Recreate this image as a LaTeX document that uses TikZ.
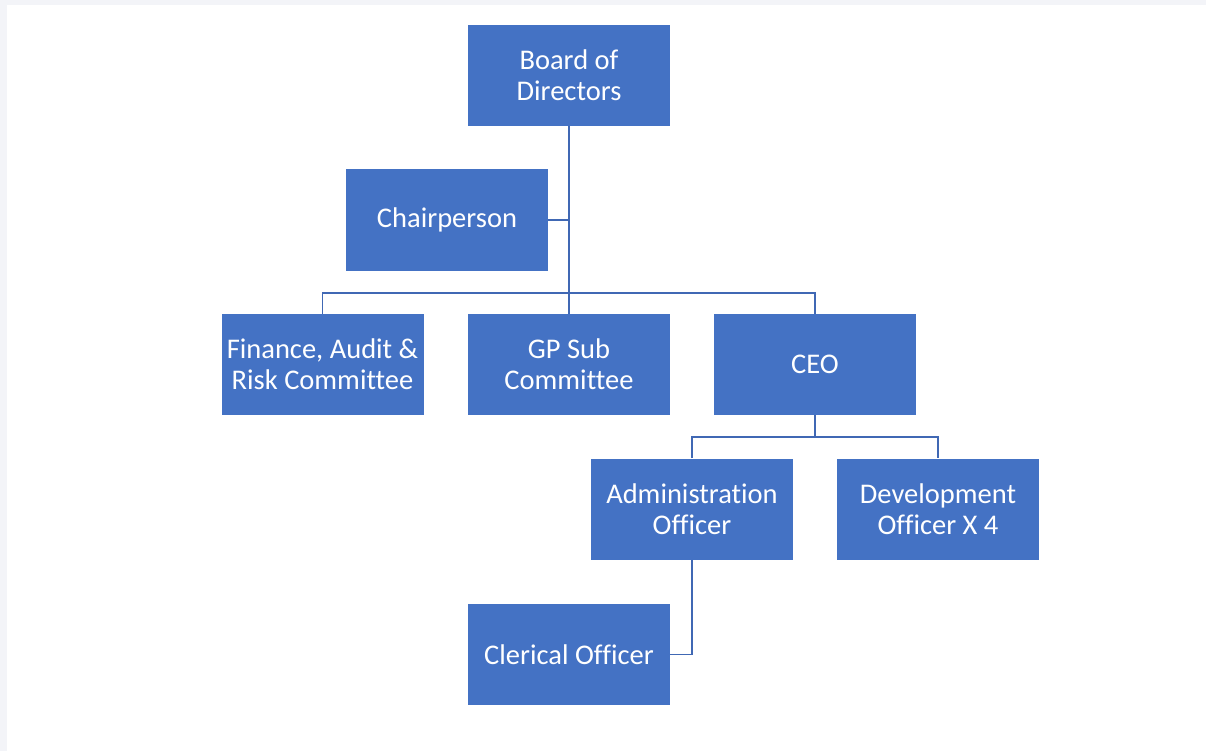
\documentclass[tikz,border=0pt]{standalone}
\usepackage{fontspec}
\setmainfont{Carlito}[Ligatures=NoCommon]
\usepackage{xcolor}
\usepackage{tikz}
\definecolor{boxblue}{HTML}{4472C4}
\definecolor{lineblue}{HTML}{4068B4}
\definecolor{pagegray}{HTML}{F3F4F8}

\begin{document}
\begin{tikzpicture}[x=1pt,y=-1pt,font=\fontsize{28.5}{31}\selectfont]
    \tikzstyle{unit}=[fill=boxblue,text=white,minimum width=202pt,minimum height=101pt,inner sep=0pt,align=center]
    \tikzstyle{link}=[draw=lineblue,line width=1.3pt]

    % page
    \fill[pagegray] (0,0) rectangle (1206,751);
    \fill[white] (7,5) rectangle (1206,751);
    \useasboundingbox (0,0) rectangle (1206,751);

    \node[unit] (board) at (569, 75.5) {Board of\\Directors};
    \node[unit] (chair) at (447, 220) {Chairperson};
    \node[unit] (fin)   at (322.5, 364.5) {Finance, Audit \&\\Risk Committee};
    \node[unit] (gp)    at (569, 364.5) {GP Sub\\Committee};
    \node[unit] (ceo)   at (815, 364.5) {CEO};
    \node[unit] (admin) at (692, 509) {Administration\\Officer};
    \node[unit] (dev)   at (938, 509) {Development\\Officer X 4};
    \node[unit] (cler)  at (569, 654.5) {Clerical Officer};

    \coordinate (bus) at (569, 293);
    \coordinate (ceobus) at (815, 437);

    \draw[link] (board.south) -- (bus);
    \draw[link] (chair.east) -- (chair.east -| board.south);
    \draw[link] (fin.north) |- (bus) -| (ceo.north);
    \draw[link] (bus) -- (gp.north);
    \draw[link] (ceo.south) -- (ceobus);
    \draw[link] (admin.north) |- (ceobus) -| (dev.north);
    \draw[link] (admin.south) |- (cler.east);
  \end{tikzpicture}
\end{document}
